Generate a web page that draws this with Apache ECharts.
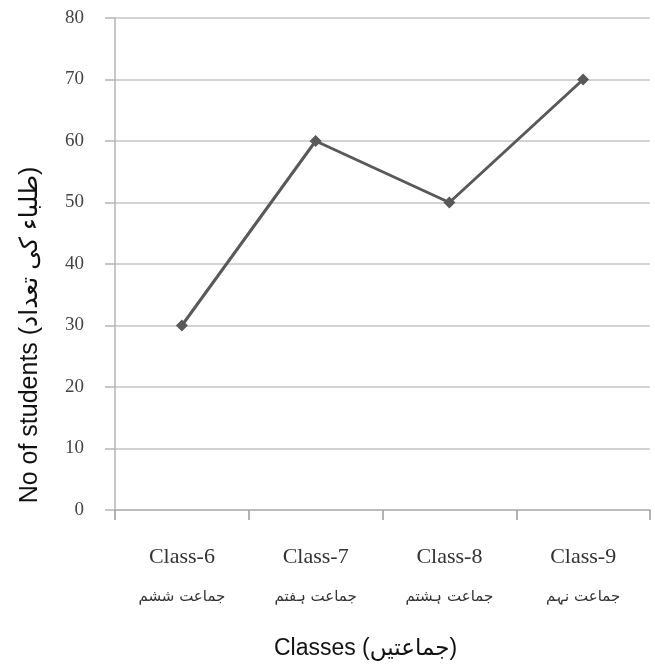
<!DOCTYPE html>
<html>
<head>
<meta charset="utf-8">
<script src="https://cdn.jsdelivr.net/npm/echarts@6/dist/echarts.min.js"></script>
<style>html,body{margin:0;padding:0;background:#fff}#c{width:655px;height:668px}</style>
</head>
<body>
<div id="c"></div>
<script>
const categories = ['Class-6', 'Class-7', 'Class-8', 'Class-9'];
const urduCategories = ['جماعت ششم', 'جماعت ہفتم', 'جماعت ہشتم', 'جماعت نہم'];
const students = [30, 60, 50, 70];
const yTicks = [0, 10, 20, 30, 40, 50, 60, 70, 80];

const chart = echarts.init(document.getElementById('c'));
chart.setOption({
  backgroundColor: '#fff',
  animation: false,
  grid: { left: 115, right: 5, top: 18, bottom: 158, containLabel: false, outerBoundsMode: 'none' },
  xAxis: {
    type: 'category',
    data: categories,
    boundaryGap: true,
    name: 'Classes (جماعتیں)',
    nameLocation: 'middle',
    nameGap: 127,
    nameTextStyle: { fontFamily: 'Liberation Sans, DejaVu Sans', fontSize: 23, color: '#111', padding: [0, 34, 0, 0] },
    axisLine: { lineStyle: { color: '#b5b5b5', width: 1.5 } },
    axisTick: { show: true, length: 10, lineStyle: { color: '#9a9a9a', width: 1.5 } },
    axisLabel: {
      margin: 27,
      lineHeight: 40,
      formatter: function (v, i) { return '{en|' + v + '}\n{ur|' + urduCategories[i] + '}'; },
      rich: {
        en: { fontFamily: 'Liberation Serif, DejaVu Serif', fontSize: 22, color: '#333', lineHeight: 40 },
        ur: { fontFamily: 'DejaVu Sans, Noto Sans', fontSize: 15, color: '#333', lineHeight: 40 }
      }
    }
  },
  yAxis: {
    type: 'value',
    min: yTicks[0],
    max: yTicks[yTicks.length - 1],
    interval: yTicks[1] - yTicks[0],
    name: 'No of students (طلباء کی تعداد)',
    nameLocation: 'middle',
    nameGap: 72,
    nameTextStyle: { fontFamily: 'Liberation Sans, DejaVu Sans', fontSize: 25, color: '#111', padding: [0, 142, 0, 0] },
    axisLine: { show: true, lineStyle: { color: '#b5b5b5', width: 1.5 } },
    axisTick: { show: true, length: 10, lineStyle: { color: '#b5b5b5', width: 1.5 } },
    axisLabel: { margin: 31, fontFamily: 'Liberation Serif, DejaVu Serif', fontSize: 19, color: '#444' },
    splitLine: { show: true, lineStyle: { color: '#c4c4c4', width: 1.5 } }
  },
  series: [{
    type: 'line',
    data: students,
    symbol: 'diamond',
    symbolSize: 12,
    lineStyle: { color: '#595959', width: 3 },
    itemStyle: { color: '#595959' }
  }]
});
</script>
</body>
</html>
